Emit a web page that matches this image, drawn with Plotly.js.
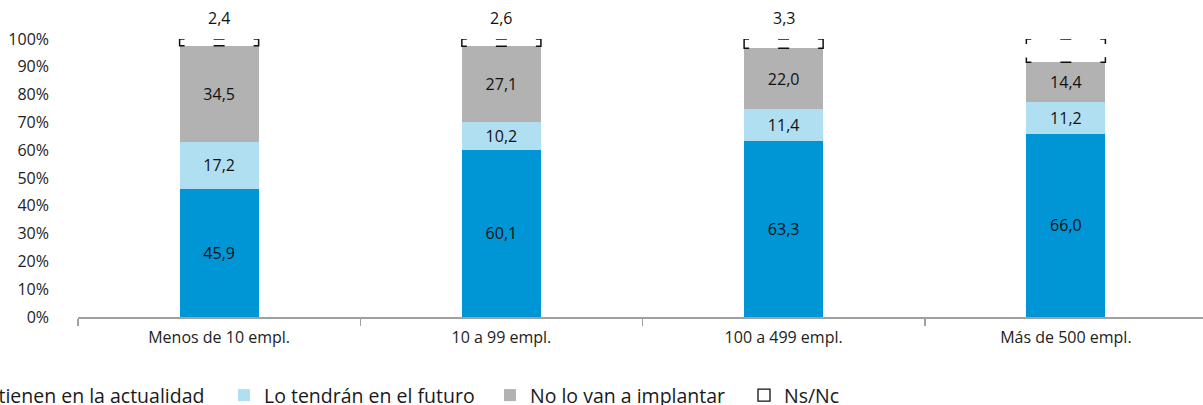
<!DOCTYPE html>
<html><head><meta charset="utf-8">
<script src="https://cdn.plot.ly/plotly-3.0.1.min.js"></script>
<style>html,body{margin:0;padding:0;overflow:hidden;background:#fff;}#chart{width:1210px;height:405px;}</style>
</head><body><div id="chart"></div>
<script>
const categories = ["Menos de 10 empl.", "10 a 99 empl.", "100 a 499 empl.", "Más de 500 empl."];
const actualidad = [45.9, 60.1, 63.3, 66.0];
const futuro = [17.2, 10.2, 11.4, 11.2];
const noImplantar = [34.5, 27.1, 22.0, 14.4];
const nsnc = [2.4, 2.6, 3.3, 8.4];
const seriesNames = ["Lo tienen en la actualidad", "Lo tendrán en el futuro", "No lo van a implantar", "Ns/Nc"];
const colors = ["#0096d6", "#b0dff2", "#b2b2b2", "#ffffff"];
const legendIds = ["legend", "legend2", "legend3", "legend4"];
const legendX = [-0.1298, 0.1293, 0.3649, 0.5899];

const W = 1210, H = 405;
const margin = {l: 78, r: 3, t: 38.5, b: 87.5, autoexpand: false};
const plotW = W - margin.l - margin.r, plotH = H - margin.t - margin.b;
const barWidth = 0.28;
const fontFam = "'Open Sans', Lato, sans-serif";
const fmt = v => v.toFixed(1).replace(".", ",");

function barTrace(vals, i, extra) {
  return Object.assign({
    type: "bar", x: categories, y: vals, name: seriesNames[i], width: barWidth,
    legend: legendIds[i],
    marker: {color: colors[i], line: {width: 0}},
    texttemplate: "%{y:.1f}", textposition: "inside", insidetextanchor: "middle",
    textfont: {color: "#111", size: 16, family: fontFam},
    hoverinfo: "skip"
  }, extra || {});
}

const traces = [
  barTrace(actualidad, 0),
  barTrace(futuro, 1),
  barTrace(noImplantar, 2),
  barTrace(nsnc, 3, {textposition: "none", showlegend: false})
];

// bracket-like dash pattern: corners plus a short dash in the middle of each horizontal edge
const bw = barWidth * plotW / categories.length;
function dashFor(v) {
  const h = v * plotH / 100;
  const c = 5, m = 11, g = (bw - 2 * c - m) / 2;
  let arr;
  if (h <= 2 * c + 2) {
    arr = [c, g, m, g, 2 * c + h, g, m, g, c + h, 1000];
  } else {
    arr = [c, g, m, g, 2 * c, h - 2 * c, 2 * c, g, m, g, 2 * c, h - 2 * c, c, 1000];
  }
  return arr.map(d => d.toFixed(2) + "px").join(",");
}

const shapes = categories.map((c, i) => {
  const base = actualidad[i] + futuro[i] + noImplantar[i];
  return {
    type: "rect", xref: "x", yref: "y",
    x0: i - barWidth / 2, x1: i + barWidth / 2, y0: base, y1: base + nsnc[i],
    line: {color: "#111", width: 1.5, dash: dashFor(nsnc[i])},
    fillcolor: "rgba(0,0,0,0)", showlegend: false, layer: "above"
  };
});
// legend key for Ns/Nc (dotted square), placed outside the visible page
shapes.push({
  type: "rect", xref: "paper", yref: "paper",
  x0: 3, x1: 3.01, y0: 3, y1: 3.01,
  line: {color: "#111", width: 1.3, dash: "2px,2px"}, fillcolor: "rgba(0,0,0,0)",
  showlegend: true, name: seriesNames[3], legend: legendIds[3]
});

const annotations = categories.map((c, i) => ({
  x: c, y: actualidad[i] + futuro[i] + noImplantar[i] + nsnc[i], xref: "x", yref: "y",
  text: fmt(nsnc[i]), showarrow: false, yanchor: "bottom", yshift: 8,
  font: {size: 16, color: "#111", family: fontFam}
}));

const layout = {
  width: W, height: H, margin: margin,
  barmode: "stack",
  separators: ",.",
  paper_bgcolor: "#fff", plot_bgcolor: "#fff",
  font: {family: fontFam, color: "#222", size: 16},
  xaxis: {
    type: "category", showgrid: false, zeroline: false,
    showline: true, linecolor: "#a0a0a0", linewidth: 1.5,
    ticks: "outside", tickson: "boundaries", ticklen: 7, tickcolor: "#a0a0a0", tickwidth: 1.5,
    ticklabelstandoff: 5,
    tickfont: {size: 16, color: "#222", family: fontFam}
  },
  yaxis: {
    range: [0, 100], dtick: 10, ticksuffix: "%", showgrid: false, zeroline: false,
    showline: false, ticks: "", ticklabelstandoff: 28,
    tickfont: {size: 16, color: "#222", family: fontFam}
  },
  shapes: shapes,
  annotations: annotations,
  showlegend: true
};
legendIds.forEach((id, i) => {
  layout[id] = {
    orientation: "h", x: legendX[i], xanchor: "left", y: -0.212, yanchor: "top",
    font: {size: 19.5, color: "#1a1a1a", family: fontFam}, bgcolor: "rgba(0,0,0,0)"
  };
});

Plotly.newPlot("chart", traces, layout, {displayModeBar: false, staticPlot: true});
</script></body></html>
